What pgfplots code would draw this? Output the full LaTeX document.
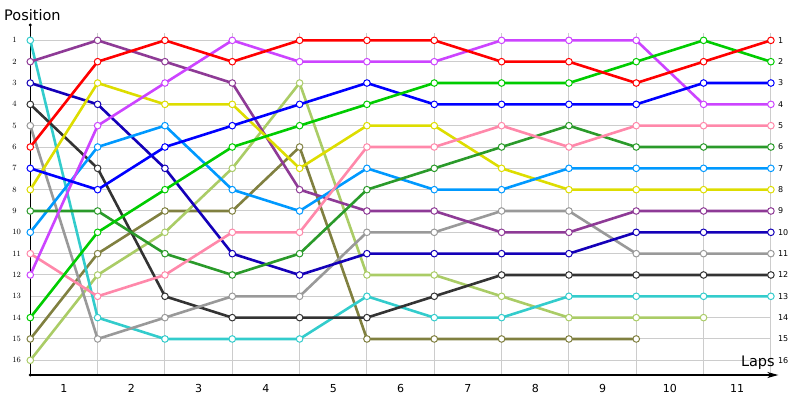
\documentclass[border=0pt]{standalone}
\usepackage{pgfplots}
\pgfplotsset{compat=1.18}
\usepackage{fontspec}
\setmainfont{DejaVu Sans}
\usetikzlibrary{arrows.meta}
\definecolor{cRed}{HTML}{FF0000}
\definecolor{cViolet}{HTML}{CC44FF}
\definecolor{cPurple}{HTML}{8E3A96}
\definecolor{cBlue}{HTML}{0000FF}
\definecolor{cDkBlue}{HTML}{1400B8}
\definecolor{cBlack}{HTML}{333333}
\definecolor{cGray}{HTML}{999999}
\definecolor{cCyan}{HTML}{33CCCC}
\definecolor{cYellow}{HTML}{DDDD00}
\definecolor{cLtBlue}{HTML}{0099FF}
\definecolor{cGreen}{HTML}{00CC00}
\definecolor{cDkGreen}{HTML}{2A9A2A}
\definecolor{cPink}{HTML}{FF88AA}
\definecolor{cOlive}{HTML}{808040}
\definecolor{cLtGreen}{HTML}{AACC66}
\definecolor{cGrid}{HTML}{CCCCCC}
\pgfplotsset{
  drv/.style={color=#1, line width=2.6pt, mark=*, mark size=3.3pt,
    mark options={fill=white, draw=#1, line width=1pt, solid}},
}
\begin{document}
\begin{tikzpicture}[x=1pt,y=1pt]
\useasboundingbox (0,0) rectangle (800,400);
\node[anchor=base west, inner sep=0pt, font=\fontsize{14.5}{16}\selectfont] at (4,379.3) {Position};
\begin{axis}[
  at={(30.3pt,25pt)}, anchor=south west,
  scale only axis, width=748pt, height=350pt,
  xmin=0, xmax=11.11, ymin=0.28, ymax=16.69,
  y dir=reverse,
  clip=false,
  axis line style={draw=none},
  major tick length=0pt,
  xtick={0.5,1.5,...,10.5},
  xticklabels={1,2,3,4,5,6,7,8,9,10,11},
  ytick={1,...,16},
  xticklabel style={font=\fontsize{11}{12}\selectfont, anchor=north, inner sep=0pt, yshift=-9.5pt},
  yticklabel style={font=\fontsize{8}{9}\selectfont, anchor=west, inner sep=0pt, xshift=-18pt},
]
% grid
\pgfplotsinvokeforeach{1,...,16}{
  \draw[cGrid, line width=1pt] (axis cs:0,#1) -- (axis cs:11,#1);
  \node[anchor=west, inner sep=0pt, font=\fontsize{8}{9}\selectfont] at (axis cs:11,#1) [xshift=7pt] {#1};
}
\pgfplotsinvokeforeach{1,...,11}{
  \draw[cGrid, line width=1pt] (axis cs:#1,0.67) -- (axis cs:#1,16.69);
}
% axes
\draw[black, line width=1.2pt] (axis cs:0,16.69) -- (axis cs:0,0.28);
\fill[black] (axis cs:0,0.28) circle (1.6pt);
\fill[black] (axis cs:0,16.69) circle (1.6pt);
\draw[black, line width=1.2pt, -{Stealth[length=11pt,width=6pt,inset=3pt]}] (axis cs:0,16.69) -- (axis cs:11.11,16.69);
\node[anchor=base east, inner sep=0pt, font=\fontsize{14.5}{16}\selectfont] at (axis cs:11.06,16.27) {Laps};
% drivers
\addplot[drv=cOlive] coordinates {(0,15)(1,11)(2,9)(3,9)(4,6)(5,15)(6,15)(7,15)(8,15)(9,15)};
\addplot[drv=cLtGreen] coordinates {(0,16)(1,12)(2,10)(3,7)(4,3)(5,12)(6,12)(7,13)(8,14)(9,14)(10,14)};
\addplot[drv=cCyan] coordinates {(0,1)(1,14)(2,15)(3,15)(4,15)(5,13)(6,14)(7,14)(8,13)(9,13)(10,13)(11,13)};
\addplot[drv=cBlack] coordinates {(0,4)(1,7)(2,13)(3,14)(4,14)(5,14)(6,13)(7,12)(8,12)(9,12)(10,12)(11,12)};
\addplot[drv=cGray] coordinates {(0,5)(1,15)(2,14)(3,13)(4,13)(5,10)(6,10)(7,9)(8,9)(9,11)(10,11)(11,11)};
\addplot[drv=cDkBlue] coordinates {(0,3)(1,4)(2,7)(3,11)(4,12)(5,11)(6,11)(7,11)(8,11)(9,10)(10,10)(11,10)};
\addplot[drv=cPurple] coordinates {(0,2)(1,1)(2,2)(3,3)(4,8)(5,9)(6,9)(7,10)(8,10)(9,9)(10,9)(11,9)};
\addplot[drv=cYellow] coordinates {(0,8)(1,3)(2,4)(3,4)(4,7)(5,5)(6,5)(7,7)(8,8)(9,8)(10,8)(11,8)};
\addplot[drv=cLtBlue] coordinates {(0,10)(1,6)(2,5)(3,8)(4,9)(5,7)(6,8)(7,8)(8,7)(9,7)(10,7)(11,7)};
\addplot[drv=cDkGreen] coordinates {(0,9)(1,9)(2,11)(3,12)(4,11)(5,8)(6,7)(7,6)(8,5)(9,6)(10,6)(11,6)};
\addplot[drv=cPink] coordinates {(0,11)(1,13)(2,12)(3,10)(4,10)(5,6)(6,6)(7,5)(8,6)(9,5)(10,5)(11,5)};
\addplot[drv=cViolet] coordinates {(0,12)(1,5)(2,3)(3,1)(4,2)(5,2)(6,2)(7,1)(8,1)(9,1)(10,4)(11,4)};
\addplot[drv=cBlue] coordinates {(0,7)(1,8)(2,6)(3,5)(4,4)(5,3)(6,4)(7,4)(8,4)(9,4)(10,3)(11,3)};
\addplot[drv=cGreen] coordinates {(0,14)(1,10)(2,8)(3,6)(4,5)(5,4)(6,3)(7,3)(8,3)(9,2)(10,1)(11,2)};
\addplot[drv=cRed] coordinates {(0,6)(1,2)(2,1)(3,2)(4,1)(5,1)(6,1)(7,2)(8,2)(9,3)(10,2)(11,1)};
\end{axis}
\end{tikzpicture}
\end{document}
